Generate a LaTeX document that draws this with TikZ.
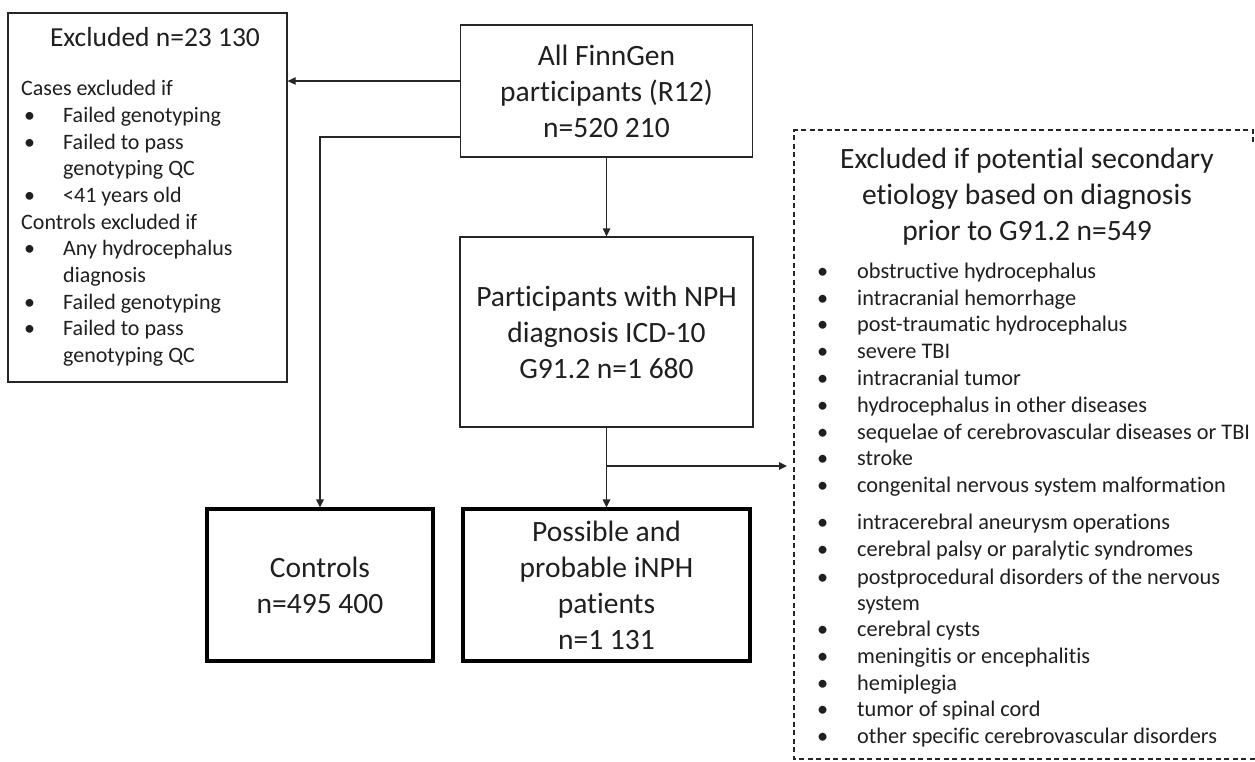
\documentclass[tikz,border=0pt]{standalone}
\usepackage{fontspec}
\setmainfont{Carlito}[Ligatures=NoCommon]
\usetikzlibrary{arrows.meta}
\begin{document}
\begin{tikzpicture}[x=1pt,y=-1pt,
  box/.style={draw=black!85, line width=1.3pt, inner sep=0pt, align=center,
    font=\fontsize{29.5}{36}\selectfont, text=black!88},
  endbox/.style={box, draw=black, line width=3.2pt},
  arr/.style={draw=black!85, line width=1.3pt, -{Triangle[length=8pt,width=7.5pt]}},
  li/.style={anchor=mid west, inner sep=0pt, text=black!88, font=\fontsize{22}{26.7}\selectfont},
  sli/.style={li, font=\fontsize{22.3}{26.7}\selectfont},
  ttl/.style={inner sep=0pt, text=black!88, align=center},
  dbox/.style={draw=black!85, line width=1.2pt, dash pattern=on 5pt off 3.5pt}
]
\useasboundingbox (0,0) rectangle (1255,761);
\fill[white] (0,0) rectangle (1255,761);

% main boxes
\node[box, minimum width=292, minimum height=132] (all) at (606.5,91) {All FinnGen\\participants (R12)\\n=520 210};
\node[box, minimum width=279, minimum height=369] (excl) at (147.5,197.5) {};
\node[box, minimum width=293, minimum height=190] (nph) at (606.5,332) {Participants with NPH\\diagnosis ICD-10\\G91.2 n=1 680};
\node[endbox, minimum width=226, minimum height=152] (ctrl) at (320,585) {Controls\\n=495 400};
\node[endbox, minimum width=287, minimum height=152] (poss) at (606.5,585) {Possible and\\probable iNPH\\patients\\n=1 131};

% excluded box contents
\node[ttl, font=\fontsize{27.5}{33}\selectfont] (exT) at (155,37) {Excluded n=23 130};
\node[li] (ex1) at (21,93) {Cases excluded if};
\node[li] (exb1) at (24,120) {•};  \node[li] (ex2) at (63,120) {Failed genotyping};
\node[li] (exb2) at (24,147) {•};  \node[li] (ex3) at (63,147) {Failed to pass};
\node[li] (ex4) at (63,173) {genotyping QC};
\node[li] (exb3) at (24,200) {•};  \node[li] (ex5) at (63,200) {<41 years old};
\node[li] (ex6) at (21,227) {Controls excluded if};
\node[li] (exb4) at (24,253) {•};  \node[li] (ex7) at (63,253) {Any hydrocephalus};
\node[li] (ex8) at (63,280) {diagnosis};
\node[li] (exb5) at (24,307) {•};  \node[li] (ex9) at (63,307) {Failed genotyping};
\node[li] (exb6) at (24,333) {•};  \node[li] (ex10) at (63,333) {Failed to pass};
\node[li] (ex11) at (63,360) {genotyping QC};

% dashed box
\draw[dbox] (1253,142) -- (1253,130) -- (794,130) -- (794,759) -- (1255,759);
\node[ttl, font=\fontsize{29.5}{36}\selectfont] (secT) at (1027,197) {Excluded if potential secondary\\etiology based on diagnosis\\prior to G91.2 n=549};

\foreach \yy/\tx [count=\i] in {
  276/obstructive hydrocephalus,
  303/intracranial hemorrhage,
  329/post-traumatic hydrocephalus,
  356/severe TBI,
  383/intracranial tumor,
  410/hydrocephalus in other diseases,
  437/sequelae of cerebrovascular diseases or TBI,
  463/stroke,
  490/congenital nervous system malformation,
  527/intracerebral aneurysm operations,
  554/cerebral palsy or paralytic syndromes,
  582/postprocedural disorders of the nervous,
  634/cerebral cysts,
  661/meningitis or encephalitis,
  688/hemiplegia,
  714/tumor of spinal cord,
  741/other specific cerebrovascular disorders}{
  \node[sli] (sb\i) at (817,\yy) {•};
  \node[sli] (s\i) at (857,\yy) {\tx};
}
\node[sli] (ssys) at (857,608) {system};

% connectors
\coordinate (y81) at (0,81);
\coordinate (y137) at (0,137);
\coordinate (y466) at (0,466);
\coordinate (sectip) at (787,466);
\draw[arr] (all.west |- y81) -- (excl.east |- y81);
\draw[arr] (all.west |- y137) -| (ctrl.north);
\draw[arr] (all.south) -- (nph.north);
\draw[arr] (nph.south) -- (poss.north);
\coordinate (br) at (nph.south |- y466);
\draw[arr] (br) -- (sectip);
\end{tikzpicture}
\end{document}
